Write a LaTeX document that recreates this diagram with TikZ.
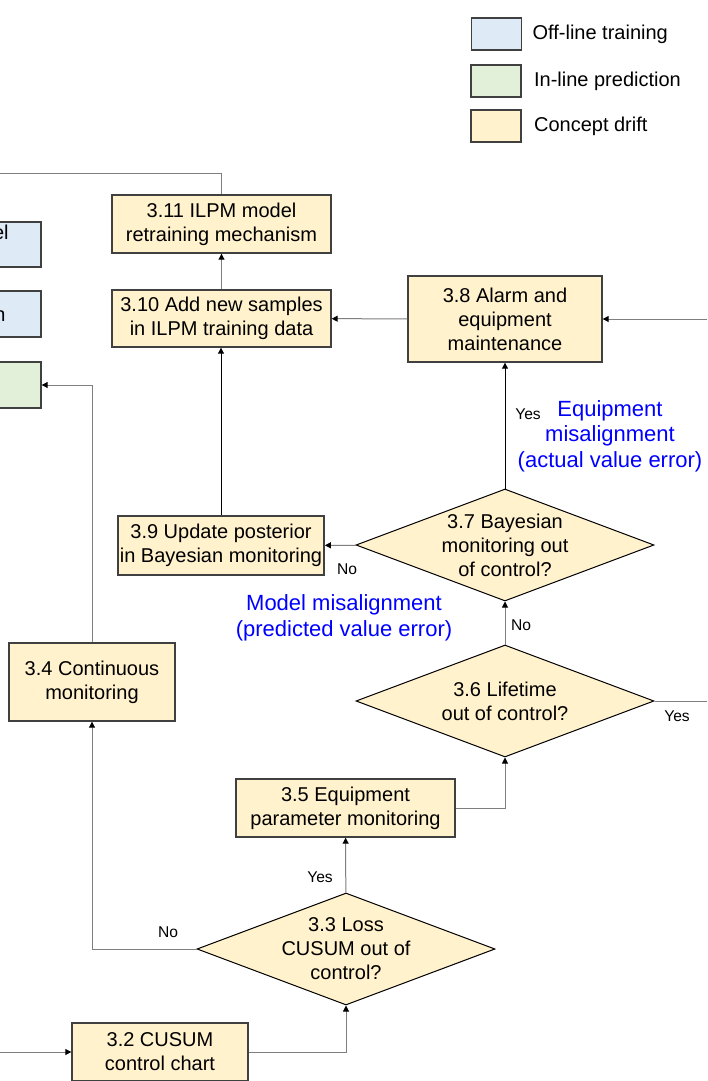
\documentclass[tikz,border=0pt]{standalone}
\usepackage{fontspec}
\setmainfont{Liberation Sans}
\usepackage{tikz}
\usetikzlibrary{arrows.meta,positioning,shapes.geometric}

\definecolor{driftfill}{HTML}{FFF2CC}
\definecolor{offfill}{HTML}{DEEBF7}
\definecolor{inlfill}{HTML}{E2F0D9}
\definecolor{edgegray}{HTML}{404040}
\definecolor{linegray}{HTML}{7F7F7F}

\begin{document}
\begin{tikzpicture}[
		x=0.5pt,y=-0.5pt,
		font=\fontsize{10}{12}\selectfont,
		box/.style={draw=edgegray,line width=0.7pt,fill=driftfill,align=center,inner sep=1pt},
		decision/.style={diamond,draw=black,line width=0.5pt,fill=driftfill,align=center,
			aspect=2.66,inner sep=0pt,minimum width=149pt,minimum height=56pt},
		legendbox/.style={draw=edgegray,line width=0.7pt,minimum width=25pt,minimum height=16pt,inner sep=0pt},
		flow/.style={draw=linegray,line width=0.5pt,-{Triangle[length=3pt,width=3pt,color=black]}},
		plain/.style={draw=linegray,line width=0.5pt},
		tag/.style={font=\fontsize{7.8}{9}\selectfont,inner sep=0pt},
		note/.style={text=blue,align=center,font=\fontsize{11}{12.8}\selectfont,inner sep=0pt},
	]
			\useasboundingbox (0,0) rectangle (707,1081);
			\fill[white] (0,0) rectangle (707,1081);
			\clip (0,0) rectangle (707,1081);

			% legend
			\node[legendbox,fill=offfill] (lgoff) at (496.5,34) {};
			\node[legendbox,fill=inlfill] (lginl) at (496,81) {};
			\node[legendbox,fill=driftfill] (lgdrift) at (496,126) {};
			\node[right=5pt of lgoff,inner sep=0pt] {Off-line training};
			\node[right=6pt of lginl,inner sep=0pt] {In-line prediction};
			\node[right=6pt of lgdrift,inner sep=0pt] {Concept drift};

			% boxes on the left edge
			\node[draw=edgegray,line width=0.7pt,fill=offfill,minimum width=60pt,minimum height=22.5pt,inner sep=0pt] (offa) at (-19,244.5) {};
			\node[draw=edgegray,line width=0.7pt,fill=offfill,minimum width=60pt,minimum height=23pt,inner sep=0pt] (offb) at (-19,314) {};
			\node[draw=edgegray,line width=0.7pt,fill=inlfill,minimum width=60pt,minimum height=23pt,inner sep=0pt] (inl) at (-19,385) {};
			\node[anchor=east,inner sep=0pt] at (9,232) {el};
			\node[anchor=east,inner sep=0pt] at (6,316) {n};

			% concept drift steps
			\node[box,minimum width=109.5pt,minimum height=29pt] (retrain) at (221.5,224) {3.11 ILPM model\\retraining mechanism};
			\node[box,minimum width=109.5pt,minimum height=28.5pt] (addsmp) at (221.5,318.5) {3.10 Add new samples\\in ILPM training data};
			\node[box,minimum width=97pt,minimum height=43pt] (alarm) at (505,319) {3.8 Alarm and\\equipment\\maintenance};
			\node[decision] (bayes) at (505,545) {3.7 Bayesian\\monitoring out\\of control?};
			\node[box,minimum width=103pt,minimum height=29.5pt] (update) at (221,545.5) {3.9 Update posterior\\in Bayesian monitoring};
			\node[decision] (life) at (505,701) {3.6 Lifetime\\out of control?};
			\node[box,minimum width=109.5pt,minimum height=29pt] (eqpar) at (345.5,808) {3.5 Equipment\\parameter monitoring};
			\node[decision] (cusumq) at (346,949) {3.3 Loss\\CUSUM out of\\control?};
			\node[box,minimum width=83pt,minimum height=39pt] (contmon) at (92,682) {3.4 Continuous\\monitoring};
			\node[box,minimum width=88pt,minimum height=29pt] (cusum) at (160,1052) {3.2 CUSUM\\control chart};

			\coordinate (outtop) at (0,173);
			\coordinate (inalarm) at (707,319);
			\coordinate (outlife) at (707,701);
			\coordinate (incusum) at (0,1052);

			% connectors
			\draw[flow] (addsmp) -- (retrain);
			\draw[plain] (retrain.north) |- (outtop);
			\draw[flow] (alarm) -- (addsmp);
			\draw[flow] (inalarm) -- (alarm);
			\draw[flow,draw=black] (bayes) -- (alarm);
			\draw[flow] (bayes) -- (update);
			\draw[flow,draw=black] (update.north) -- (update.north |- addsmp.south);
			\draw[flow] (life) -- (bayes);
			\draw[plain] (life.east) -- (outlife);
			\draw[flow] (eqpar.east) -| (life.south);
			\draw[flow] (cusumq) -- (eqpar);
			\draw[flow] (cusumq.west) -| (contmon.south);
			\draw[flow] (contmon.north) |- (inl.east);
			\draw[flow] (incusum) -- (cusum);
			\draw[flow] (cusum.east) -| (cusumq.south);

			% branch labels
			\node[tag] at (528,414) {Yes};
			\node[tag] at (347,569) {No};
			\node[tag] at (521,625) {No};
			\node[tag] at (677,716) {Yes};
			\node[tag] at (320,877) {Yes};
			\node[tag] at (168,932) {No};
			\node[note] at (610,436) {Equipment\\misalignment\\(actual value error)};
			\node[note] at (344,618) {Model misalignment\\(predicted value error)};
		\end{tikzpicture}
\end{document}
